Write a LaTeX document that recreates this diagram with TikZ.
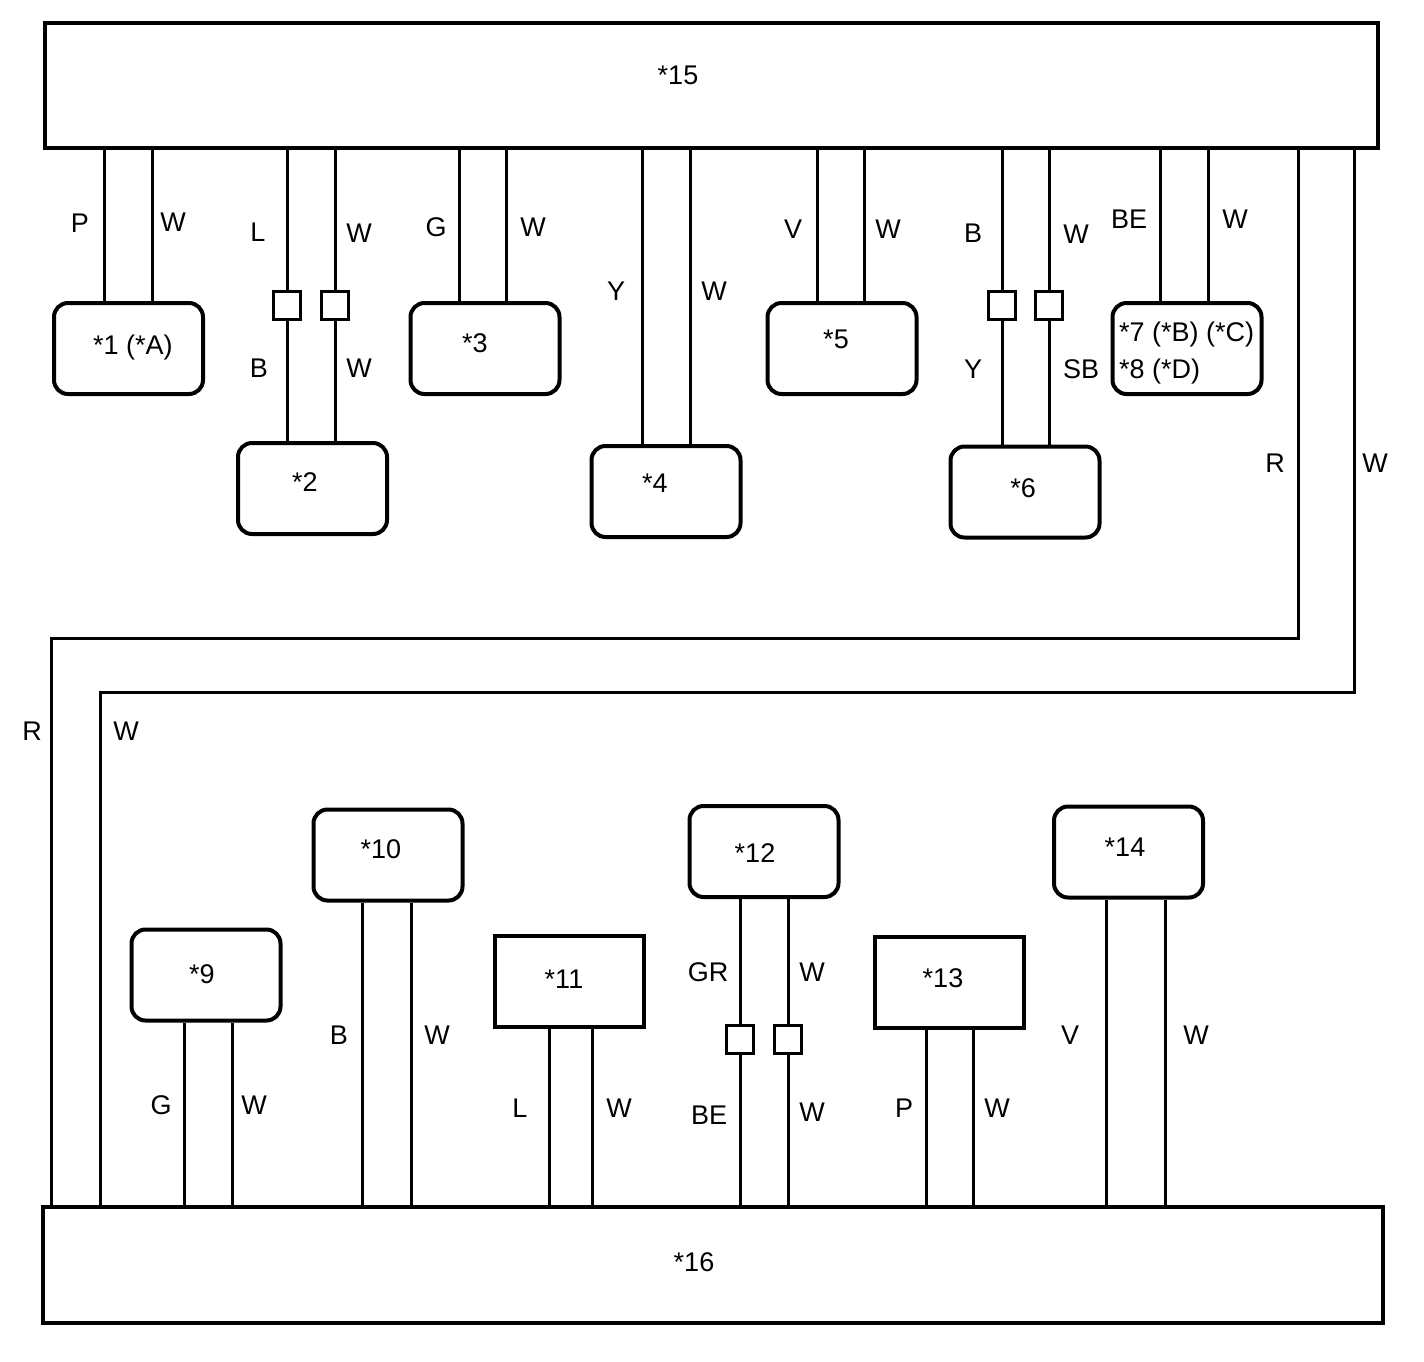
\documentclass[tikz,border=0pt]{standalone}
\usepackage{fontspec}
\setmainfont{Liberation Sans}
\begin{document}
\begin{tikzpicture}[x=1pt,y=-1pt,
  box/.style={draw,line width=4pt,rounded corners=14pt,minimum width=149pt,minimum height=91pt,inner sep=0pt},
  sbox/.style={box,rounded corners=0pt},
  big/.style={draw,line width=4pt,inner sep=0pt},
  wire/.style={line width=3pt},
  conn/.style={draw,line width=3.5pt,minimum width=27pt,minimum height=28pt,inner sep=0pt},
  txt/.style={font=\fontsize{27}{32}\selectfont,inner sep=0pt,text height=19.5pt,text depth=0pt},
]
\useasboundingbox (0,0) rectangle (1424,1361);

% main boxes
\node[big,minimum width=1333pt,minimum height=125pt] (n15) at (711.5,85.5) {};
\node[big,minimum width=1340pt,minimum height=116pt] (n16) at (713,1265) {};
\node[txt] (t15) at (678,75) {*15};
\node[txt] (t16) at (694,1262) {*16};

% upper units
\node[box] (n1) at (128.5,348.5) {};
\node[box] (n2) at (312.5,488.5) {};
\node[box] (n3) at (485,348.5) {};
\node[box] (n4) at (666,491.5) {};
\node[box] (n5) at (842,348.5) {};
\node[box] (n6) at (1025,492) {};
\node[box] (n7) at (1187,348.5) {};

\node[txt] (t1) at (133,345) {*1 (*A)};
\node[txt] (t2) at (305,482) {*2};
\node[txt] (t3) at (475,343) {*3};
\node[txt] (t4) at (655,483) {*4};
\node[txt] (t5) at (836,339) {*5};
\node[txt] (t6) at (1023,488) {*6};
\node[txt,anchor=west] (t7) at (1119,332) {*7 (*B) (*C)};
\node[txt,anchor=west] (t8) at (1119,369) {*8 (*D)};

% connectors (upper)
\node[conn] (s2a) at (287,305.5) {};
\node[conn] (s2b) at (335,305.5) {};
\node[conn] (s6a) at (1002,305.5) {};
\node[conn] (s6b) at (1049,305.5) {};

% upper wires
\draw[wire] ([xshift=-24.5pt]n1.north) coordinate (p) -- (p |- n15.south);
\draw[wire] ([xshift=23.5pt]n1.north) coordinate (p) -- (p |- n15.south);
\draw[wire] (s2a.north) -- (s2a.north |- n15.south);
\draw[wire] (s2b.north) -- (s2b.north |- n15.south);
\draw[wire] (s2a.south) -- (s2a.south |- n2.north);
\draw[wire] (s2b.south) -- (s2b.south |- n2.north);
\draw[wire] ([xshift=-26pt]n3.north) coordinate (p) -- (p |- n15.south);
\draw[wire] ([xshift=21pt]n3.north) coordinate (p) -- (p |- n15.south);
\draw[wire] ([xshift=-24pt]n4.north) coordinate (p) -- (p |- n15.south);
\draw[wire] ([xshift=24pt]n4.north) coordinate (p) -- (p |- n15.south);
\draw[wire] ([xshift=-25pt]n5.north) coordinate (p) -- (p |- n15.south);
\draw[wire] ([xshift=22pt]n5.north) coordinate (p) -- (p |- n15.south);
\draw[wire] (s6a.north) -- (s6a.north |- n15.south);
\draw[wire] (s6b.north) -- (s6b.north |- n15.south);
\draw[wire] (s6a.south) -- (s6a.south |- n6.north);
\draw[wire] (s6b.south) -- (s6b.south |- n6.north);
\draw[wire] ([xshift=-27pt]n7.north) coordinate (p) -- (p |- n15.south);
\draw[wire] ([xshift=21pt]n7.north) coordinate (p) -- (p |- n15.south);

% long wires R and W
\draw[wire] ([xshift=586.5pt]n15.south) -- ++(0,488) -| ([xshift=-662pt]n16.north);
\draw[wire] ([xshift=642.5pt]n15.south) -- ++(0,542) -| ([xshift=-613pt]n16.north);

% upper labels
\node[txt] (l1) at (80,223) {P};
\node[txt] (l2) at (173,222) {W};
\node[txt] (l3) at (258,232) {L};
\node[txt] (l4) at (359,233) {W};
\node[txt] (l5) at (259,368) {B};
\node[txt] (l6) at (359,368) {W};
\node[txt] (l7) at (436,227) {G};
\node[txt] (l8) at (533,227) {W};
\node[txt] (l9) at (616,291) {Y};
\node[txt] (l10) at (714,291) {W};
\node[txt] (l11) at (793,229) {V};
\node[txt] (l12) at (888,229) {W};
\node[txt] (l13) at (973,233) {B};
\node[txt] (l14) at (1076,234) {W};
\node[txt] (l15) at (973,369) {Y};
\node[txt] (l16) at (1081,369) {SB};
\node[txt] (l17) at (1129,219) {BE};
\node[txt] (l18) at (1235,219) {W};
\node[txt] (l19) at (1275,463) {R};
\node[txt] (l20) at (1375,463) {W};
\node[txt] (l21) at (32,731) {R};
\node[txt] (l22) at (126,731) {W};

% lower units
\node[box] (n9) at (206,975) {};
\node[box] (n10) at (388,855) {};
\node[sbox] (n11) at (569,981.5) {};
\node[box] (n12) at (764,851.5) {};
\node[sbox] (n13) at (949.5,982.5) {};
\node[box] (n14) at (1128.5,852) {};

\node[txt] (t9) at (202,974) {*9};
\node[txt] (t10) at (381,849) {*10};
\node[txt] (t11) at (564,979) {*11};
\node[txt] (t12) at (755,853) {*12};
\node[txt] (t13) at (943,978) {*13};
\node[txt] (t14) at (1125,847) {*14};

% connectors (lower)
\node[conn] (s12a) at (740,1039.5) {};
\node[conn] (s12b) at (788,1039.5) {};

% lower wires
\draw[wire] ([xshift=-22pt]n9.south) coordinate (p) -- (p |- n16.north);
\draw[wire] ([xshift=26pt]n9.south) coordinate (p) -- (p |- n16.north);
\draw[wire] ([xshift=-26pt]n10.south) coordinate (p) -- (p |- n16.north);
\draw[wire] ([xshift=23pt]n10.south) coordinate (p) -- (p |- n16.north);
\draw[wire] ([xshift=-20pt]n11.south) coordinate (p) -- (p |- n16.north);
\draw[wire] ([xshift=23pt]n11.south) coordinate (p) -- (p |- n16.north);
\draw[wire] (s12a.north) -- (s12a.north |- n12.south);
\draw[wire] (s12b.north) -- (s12b.north |- n12.south);
\draw[wire] (s12a.south) -- (s12a.south |- n16.north);
\draw[wire] (s12b.south) -- (s12b.south |- n16.north);
\draw[wire] ([xshift=-23.5pt]n13.south) coordinate (p) -- (p |- n16.north);
\draw[wire] ([xshift=23.5pt]n13.south) coordinate (p) -- (p |- n16.north);
\draw[wire] ([xshift=-22.5pt]n14.south) coordinate (p) -- (p |- n16.north);
\draw[wire] ([xshift=36.5pt]n14.south) coordinate (p) -- (p |- n16.north);

% lower labels
\node[txt] (m1) at (161,1105) {G};
\node[txt] (m2) at (254,1105) {W};
\node[txt] (m3) at (339,1035) {B};
\node[txt] (m4) at (437,1035) {W};
\node[txt] (m5) at (520,1108) {L};
\node[txt] (m6) at (619,1108) {W};
\node[txt] (m7) at (708,972) {GR};
\node[txt] (m8) at (812,972) {W};
\node[txt] (m9) at (709,1115) {BE};
\node[txt] (m10) at (812,1112) {W};
\node[txt] (m11) at (904,1108) {P};
\node[txt] (m12) at (997,1108) {W};
\node[txt] (m13) at (1070,1035) {V};
\node[txt] (m14) at (1196,1035) {W};
\end{tikzpicture}
\end{document}
